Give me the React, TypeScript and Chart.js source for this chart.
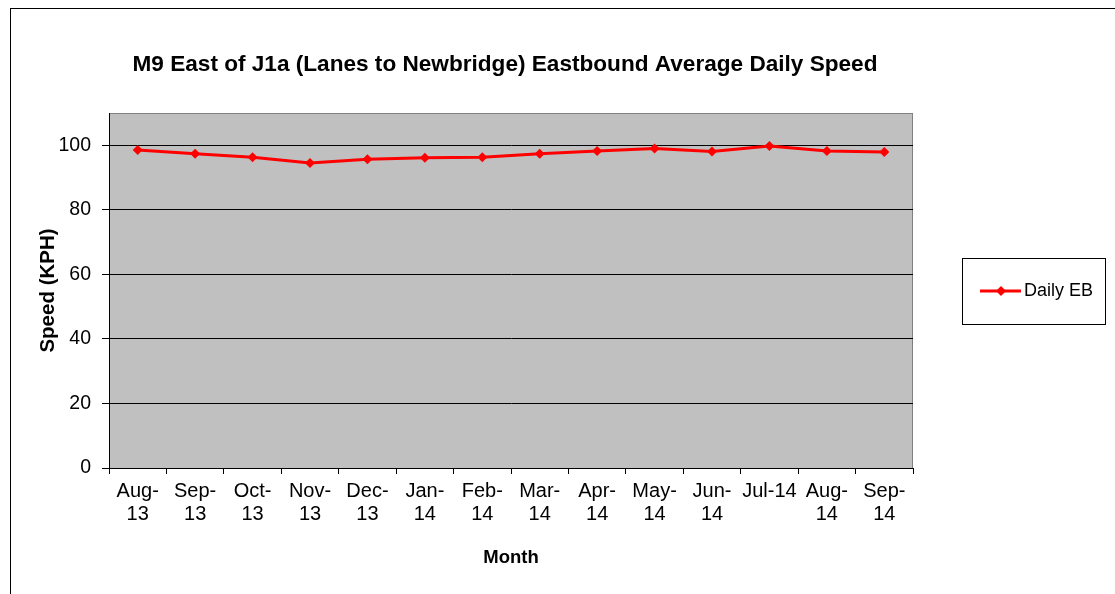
import React, { useEffect, useRef } from "react";
import { Chart, registerables } from "chart.js";

Chart.register(...registerables);

const categories: string[][] = [
  ["Aug-", "13"], ["Sep-", "13"], ["Oct-", "13"], ["Nov-", "13"], ["Dec-", "13"],
  ["Jan-", "14"], ["Feb-", "14"], ["Mar-", "14"], ["Apr-", "14"], ["May-", "14"],
  ["Jun-", "14"], ["Jul-14"], ["Aug-", "14"], ["Sep-", "14"],
];
const dailyEB: number[] = [98.5, 97.4, 96.3, 94.5, 95.7, 96.1, 96.3, 97.4, 98.2, 99.0, 98.1, 99.8, 98.2, 97.9];
const seriesName = "Daily EB";
const chartTitle = "M9 East of J1a (Lanes to Newbridge) Eastbound Average Daily Speed";
const xTitle = "Month";
const yTitle = "Speed (KPH)";

const FONT = "'Liberation Sans', Arial, sans-serif";

const decorPlugin = {
  id: "decor",
  beforeDraw(chart: any) {
    const { ctx, chartArea: a } = chart;
    ctx.save();
    ctx.fillStyle = "#ffffff";
    ctx.fillRect(0, 0, chart.width, chart.height);
    ctx.strokeStyle = "#000000";
    ctx.lineWidth = 1;
    ctx.strokeRect(10.5, 8.5, 1300, 1300);
    ctx.fillStyle = "#C0C0C0";
    ctx.fillRect(a.left, a.top, a.right - a.left, a.bottom - a.top);
    ctx.strokeStyle = "#808080";
    ctx.strokeRect(a.left + 0.5, a.top + 0.5, a.right - a.left - 1, a.bottom - a.top);
    ctx.restore();
  },
  afterDraw(chart: any) {
    const { ctx } = chart;
    ctx.save();
    // title
    ctx.fillStyle = "#000000";
    ctx.font = `bold 22.6px ${FONT}`;
    ctx.textAlign = "center";
    ctx.textBaseline = "middle";
    ctx.fillText(chartTitle, 505, 65);
    // legend
    ctx.strokeStyle = "#000000";
    ctx.lineWidth = 1;
    ctx.strokeRect(962.5, 258.5, 143, 66);
    ctx.strokeStyle = "#FF0000";
    ctx.lineWidth = 3;
    ctx.beginPath();
    ctx.moveTo(980, 291);
    ctx.lineTo(1021, 291);
    ctx.stroke();
    ctx.fillStyle = "#FF0000";
    ctx.beginPath();
    ctx.moveTo(1001, 286);
    ctx.lineTo(1006, 291);
    ctx.lineTo(1001, 296);
    ctx.lineTo(996, 291);
    ctx.closePath();
    ctx.fill();
    ctx.fillStyle = "#000000";
    ctx.font = `18px ${FONT}`;
    ctx.textAlign = "left";
    ctx.fillText(seriesName, 1024, 291);
    ctx.restore();
  },
};

export default function App() {
  const ref = useRef<HTMLCanvasElement>(null);
  useEffect(() => {
    if (!ref.current) return;
    const chart = new Chart(ref.current, {
      type: "line",
      data: {
        labels: categories,
        datasets: [
          {
            label: seriesName,
            data: dailyEB,
            borderColor: "#FF0000",
            backgroundColor: "#FF0000",
            borderWidth: 3,
            pointStyle: "rectRot",
            pointRadius: 5,
            pointBorderWidth: 0,
            tension: 0,
          },
        ],
      },
      options: {
        animation: false,
        responsive: false,
        layout: { padding: { left: 0, top: 113, right: 202, bottom: 0 } },
        plugins: { legend: { display: false }, title: { display: false }, tooltip: { enabled: false } },
        scales: {
          x: {
            offset: true,
            afterFit(scale: any) { scale.height = 126; },
            grid: { display: true, drawOnChartArea: false, drawTicks: true, tickLength: 6, offset: true, color: "#000000" },
            border: { display: true, color: "#000000", width: 1 },
            ticks: { color: "#000000", font: { family: FONT, size: 20, lineHeight: 1.15 }, padding: 6, maxRotation: 0, autoSkip: false },
            title: { display: true, text: xTitle, color: "#000000", font: { family: FONT, size: 18.5, weight: "bold" }, padding: { top: 0, bottom: 25 } },
          },
          y: {
            min: 0,
            max: 110,
            afterFit(scale: any) { scale.width = 109; },
            afterBuildTicks(scale: any) { scale.ticks = scale.ticks.filter((t: any) => t.value <= 100); },
            grid: { color: "#000000", tickLength: 7, drawTicks: true },
            border: { display: true, color: "#000000", width: 1 },
            ticks: { stepSize: 20, color: "#000000", font: { family: FONT, size: 19.5 }, padding: 11 },
            title: { display: true, text: yTitle, color: "#000000", font: { family: FONT, size: 20.5, weight: "bold" }, padding: { top: 36, bottom: 0 } },
          },
        },
      },
      plugins: [decorPlugin],
    });
    return () => chart.destroy();
  }, []);
  return (
    <div style={{ position: "absolute", left: 0, top: 0, width: 1115, height: 594 }}>
      <canvas ref={ref} width={1115} height={594} style={{ display: "block" }} />
    </div>
  );
}
